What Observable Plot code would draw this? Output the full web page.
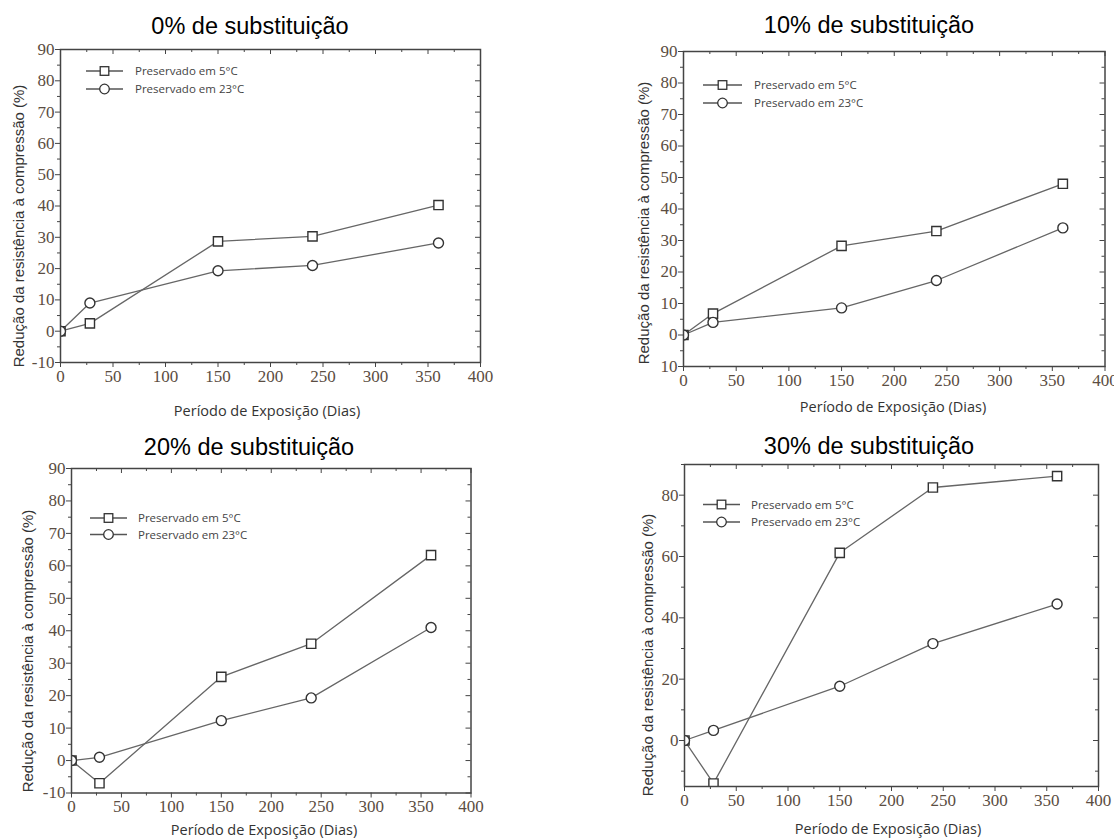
<!DOCTYPE html>
<html><head><meta charset="utf-8">
<script src="https://cdn.jsdelivr.net/npm/d3@7"></script>
<script src="https://cdn.jsdelivr.net/npm/@observablehq/plot@0.6"></script>
<style>
body{margin:0;background:#fff;overflow:hidden;}
#root{position:relative;width:1114px;height:839px;overflow:hidden;background:#fff;}
.t{position:absolute;white-space:nowrap;transform:translate(-50%,-50%);line-height:1;font-weight:400;}
.title{font-family:"Liberation Sans",Arial,sans-serif;font-size:23.5px;color:#000;}
.xl{font-family:"Open Sans",sans-serif;font-size:14.5px;color:#333;}
.yl{font-family:"Liberation Sans",Arial,sans-serif;font-size:15px;color:#333;transform:translate(-50%,-50%) rotate(-90deg);}
</style></head><body><div id="root"></div>
<script>
// ---- data ----
const days = [0, 28, 150, 240, 360];
const panelTitles = ["0% de substituição", "10% de substituição", "20% de substituição", "30% de substituição"];
const seriesNames = ["Preservado em 5°C", "Preservado em 23°C"];
const xTitle = "Período de Exposição (Dias)";
const yTitle = "Redução da resistência à compressão (%)";
const red5C_0  = [0, 2.5, 28.7, 30.3, 40.3];
const red23C_0 = [0, 9, 19.3, 21, 28.2];
const red5C_10  = [0, 6.8, 28.3, 33, 48];
const red23C_10 = [0, 4, 8.6, 17.3, 34];
const red5C_20  = [0, -7, 25.8, 36, 63.3];
const red23C_20 = [0, 1, 12.3, 19.3, 41];
const red5C_30  = [0, -14, 61.2, 82.5, 86.2];
const red23C_30 = [0, 3.3, 17.7, 31.6, 44.5];
const xTicks = [0, 50, 100, 150, 200, 250, 300, 350, 400];
const xMinorTicks = [25, 75, 125, 175, 225, 275, 325, 375];
const yTicks = [-10, 0, 10, 20, 30, 40, 50, 60, 70, 80, 90];
const yMinorTicks = [-5, 5, 15, 25, 35, 45, 55, 65, 75, 85];
const yTicks30 = [0, 20, 40, 60, 80];
const yMinorTicks30 = [-10, 10, 30, 50, 70, 90];

// ---- layout ----
const panels = [
  {title: panelTitles[0], s5: red5C_0, s23: red23C_0, yDomain: [-10, 90], yT: yTicks, yM: yMinorTicks,
   box: {fl: 60, fr: 480, ft: 49, fb: 362},
   titlePos: [250, 27], xlPos: [267, 411], ylPos: [18, 226],
   legend: {x1: 86, x2: 123, tx: 135, y: [71, 89]}},
  {title: panelTitles[1], s5: red5C_10, s23: red23C_10, yDomain: [-10, 90], yT: yTicks, yM: yMinorTicks,
   fmt: d => d === -10 ? "10" : String(d),
   box: {fl: 683, fr: 1104.5, ft: 50.5, fb: 365.5},
   titlePos: [869, 26], xlPos: [893, 407], ylPos: [643, 223],
   legend: {x1: 703, x2: 742, tx: 754, y: [85, 103]}},
  {title: panelTitles[2], s5: red5C_20, s23: red23C_20, yDomain: [-10, 90], yT: yTicks, yM: yMinorTicks,
   box: {fl: 71, fr: 470.5, ft: 468, fb: 792.5},
   titlePos: [249, 448], xlPos: [264, 830], ylPos: [27, 651],
   legend: {x1: 90, x2: 127, tx: 138, y: [518, 534.5]}},
  {title: panelTitles[3], s5: red5C_30, s23: red23C_30, yDomain: [-15, 90], yT: yTicks30, yM: yMinorTicks30,
   box: {fl: 684, fr: 1098, ft: 463.5, fb: 785.5},
   titlePos: [869, 447], xlPos: [888, 829], ylPos: [647, 655],
   legend: {x1: 703, x2: 740, tx: 751, y: [504.5, 522]}}
];

const root = document.getElementById("root");
const tickColor = "#5b4d42";
const tickFont = "Liberation Serif";

function addText(cls, txt, pos) {
  const d = document.createElement("div");
  d.className = "t " + cls;
  d.textContent = txt;
  d.style.left = pos[0] + "px";
  d.style.top = pos[1] + "px";
  root.appendChild(d);
}

for (const p of panels) {
  const {fl, fr, ft, fb} = p.box;
  const ml = 50, mt = 14, mr = 28, mb = 34;
  const fw = fr - fl, fh = fb - ft;
  const d5 = days.map((d, i) => ({day: d, v: p.s5[i]}));
  const d23 = days.map((d, i) => ({day: d, v: p.s23[i]}));
  const fmt = p.fmt || (d => String(d));
  const plot = Plot.plot({
    width: fw + ml + mr, height: fh + mt + mb,
    marginLeft: ml, marginTop: mt, marginRight: mr, marginBottom: mb,
    x: {domain: [0, 400]},
    y: {domain: p.yDomain},
    style: {background: "transparent", overflow: "visible", maxWidth: "none"},
    marks: [
      // outward major/minor ticks on bottom and left
      Plot.axisX({ticks: xTicks, tickSize: 5, tickFormat: () => "", label: null, stroke: "#444"}),
      Plot.axisX({ticks: xMinorTicks, tickSize: 3, tickFormat: () => "", label: null, stroke: "#444"}),
      Plot.axisY({ticks: p.yT, tickSize: 5, tickFormat: () => "", label: null, stroke: "#444"}),
      Plot.axisY({ticks: p.yM, tickSize: 3, tickFormat: () => "", label: null, stroke: "#444"}),
      // tick labels (serif)
      Plot.text(xTicks, {x: d => d, frameAnchor: "bottom", lineAnchor: "top", dy: 7, text: d => String(d),
        fontFamily: tickFont, fontSize: 17, fill: tickColor}),
      Plot.text(p.yT, {y: d => d, frameAnchor: "left", textAnchor: "end", dx: -6, text: fmt,
        fontFamily: tickFont, fontSize: 17, fill: tickColor}),
      // inward ticks on top and right
      Plot.tickX(xTicks, {x: d => d, stroke: "#444", insetBottom: fh - 5}),
      Plot.tickX(xMinorTicks, {x: d => d, stroke: "#444", insetBottom: fh - 3}),
      Plot.tickY(p.yT, {y: d => d, stroke: "#444", insetLeft: fw - 5}),
      Plot.tickY(p.yM, {y: d => d, stroke: "#444", insetLeft: fw - 3}),
      Plot.line(d5, {x: "day", y: "v", stroke: "#666", strokeWidth: 1.3, clip: "frame"}),
      Plot.line(d23, {x: "day", y: "v", stroke: "#666", strokeWidth: 1.3, clip: "frame"}),
      Plot.dot(d5, {x: "day", y: "v", symbol: "square", r: 5.2, fill: "white", stroke: "#333", strokeWidth: 1.4, clip: "frame"}),
      Plot.dot(d23, {x: "day", y: "v", symbol: "circle", r: 5, fill: "white", stroke: "#333", strokeWidth: 1.4, clip: "frame"}),
      Plot.frame({stroke: "#444", strokeWidth: 1.5})
    ]
  });
  plot.style.position = "absolute";
  plot.style.left = (fl - ml) + "px";
  plot.style.top = (ft - mt) + "px";
  root.appendChild(plot);

  addText("title", p.title, p.titlePos);
  addText("xl", xTitle, p.xlPos);
  addText("yl", yTitle, p.ylPos);

  // legend overlay
  const L = p.legend;
  const svg = d3.select(root).append("svg")
    .attr("width", 1114).attr("height", 839)
    .style("position", "absolute").style("left", 0).style("top", 0).style("pointer-events", "none");
  seriesNames.forEach((name, i) => {
    const y = L.y[i];
    svg.append("line").attr("x1", L.x1).attr("x2", L.x2).attr("y1", y).attr("y2", y)
      .attr("stroke", "#555").attr("stroke-width", 1.4);
    const cx = (L.x1 + L.x2) / 2;
    if (i === 0) {
      svg.append("rect").attr("x", cx - 4.3).attr("y", y - 4.3).attr("width", 8.6).attr("height", 8.6)
        .attr("fill", "white").attr("stroke", "#333").attr("stroke-width", 1.3);
    } else {
      svg.append("circle").attr("cx", cx).attr("cy", y).attr("r", 4.8)
        .attr("fill", "white").attr("stroke", "#333").attr("stroke-width", 1.3);
    }
    svg.append("text").attr("x", L.tx).attr("y", y).attr("dy", "0.35em")
      .attr("font-family", "Open Sans, sans-serif").attr("font-size", 11.5).attr("fill", "#444")
      .text(name);
  });
}
</script>
</body></html>
